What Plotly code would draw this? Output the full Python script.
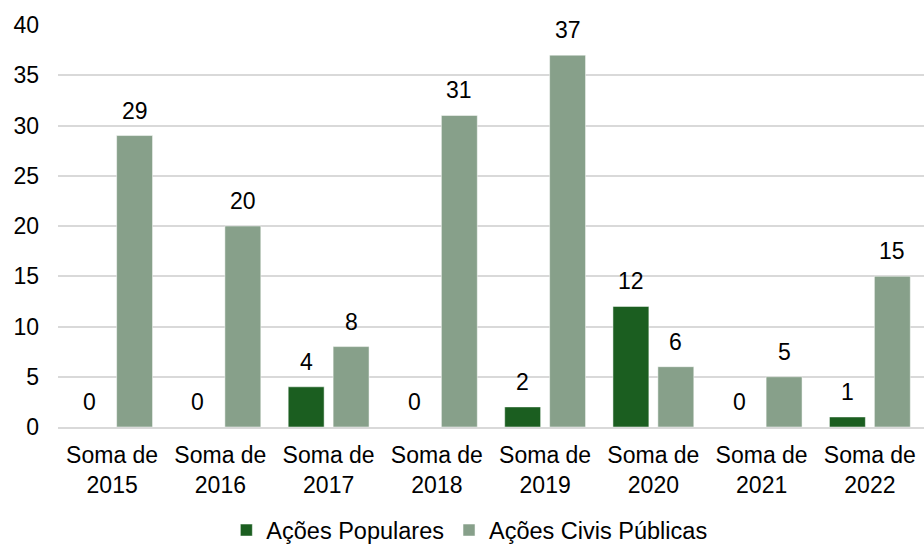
import plotly.graph_objects as go

categories = ["Soma de<br>2015", "Soma de<br>2016", "Soma de<br>2017", "Soma de<br>2018",
              "Soma de<br>2019", "Soma de<br>2020", "Soma de<br>2021", "Soma de<br>2022"]
acoes_populares = [0, 0, 4, 0, 2, 12, 0, 1]
acoes_civis = [29, 20, 8, 31, 37, 6, 5, 15]
y_ticks = [0, 5, 10, 15, 20, 25, 30, 35, 40]

font = dict(family="Liberation Sans, Arial, sans-serif", size=23, color="#000000")

series = [
    ("Ações Populares", acoes_populares, "#1b5e20", -22.5),
    ("Ações Civis Públicas", acoes_civis, "#87a08a", 22.5),
]

fig = go.Figure()
for name, vals, color, dx in series:
    fig.add_trace(go.Bar(name=name, x=categories, y=vals,
                         marker=dict(color=color, line=dict(color="#ffffff", width=0.5))))
    for cat, v in zip(categories, vals):
        fig.add_annotation(x=cat, y=v, text=str(v), showarrow=False,
                           xshift=dx, yshift=10, yanchor="bottom", font=font)

fig.update_layout(
    width=924, height=545,
    margin=dict(l=58, r=0, t=25, b=118),
    paper_bgcolor="white", plot_bgcolor="white",
    barmode="group", bargap=0.17, bargroupgap=0.2,
    font=font,
    showlegend=True,
    legend=dict(orientation="h", x=0.475, xanchor="center",
                yref="container", y=0.027, yanchor="middle",
                font=dict(family=font["family"], size=23.5, color="#000000"),
                itemwidth=30, traceorder="normal"),
    yaxis=dict(range=[0, 40], tickvals=y_ticks, showgrid=True, gridcolor="#d9d9d9",
               gridwidth=1.5, zeroline=False, ticks="", ticklabelstandoff=18,
               tickfont=font, automargin=False),
    xaxis=dict(showline=True, linecolor="#d9d9d9", linewidth=1.5, ticks="",
               tickfont=font, automargin=False, ticklabelstandoff=7),
)
fig.write_html("out.html", config={"displayModeBar": False},
               post_script="document.body.style.margin='0';document.body.style.padding='0';")
